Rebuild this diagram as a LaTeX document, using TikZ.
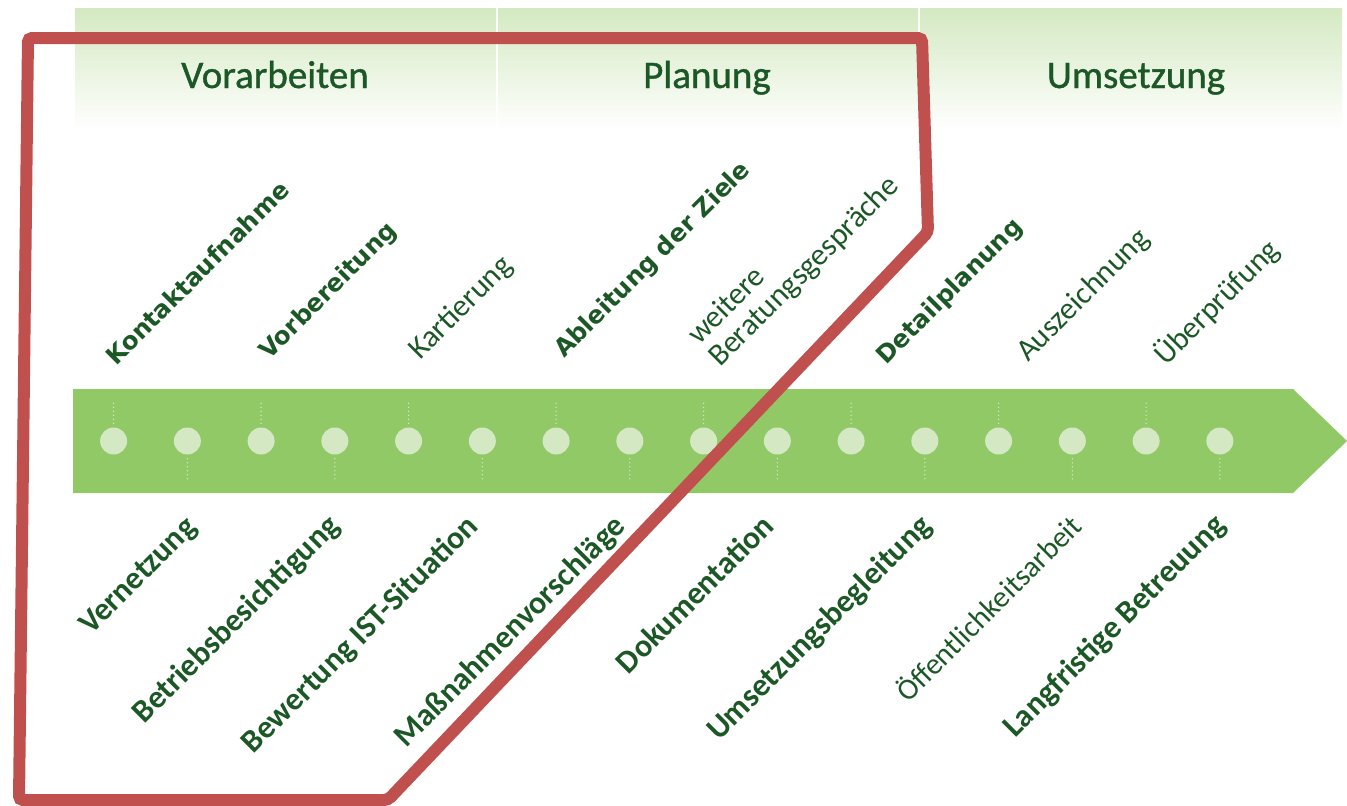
\documentclass[tikz,border=0pt]{standalone}
\usepackage{fontspec}
\setmainfont{Carlito}
\newfontfamily\vfont{DejaVu Sans}
\newfontfamily\hfont{Carlito}[FakeBold=1]
\definecolor{txtgreen}{RGB}{28,88,38}
\definecolor{arrowgreen}{RGB}{144,201,102}
\definecolor{dotgreen}{RGB}{212,232,196}
\definecolor{hdrgreen}{RGB}{212,233,194}
\definecolor{redline}{RGB}{192,80,77}
\tikzset{
  hdrtext/.style={font=\hfont\fontsize{39}{42}\selectfont, text=txtgreen, anchor=base, inner sep=0pt},
  hdrbox/.style={top color=hdrgreen, bottom color=white, draw=none},
  upbold/.style={font=\vfont\bfseries\fontsize{24.5}{28}\selectfont, text=txtgreen, rotate=45, anchor=base west, inner sep=0pt},
  uplight/.style={font=\fontsize{31}{34}\selectfont, text=txtgreen, rotate=45, anchor=base west, inner sep=0pt},
  lowbold/.style={font=\bfseries\fontsize{32}{36}\selectfont, text=txtgreen, rotate=45, anchor=base east, inner sep=0pt},
  lowlight/.style={font=\fontsize{30}{34}\selectfont, text=txtgreen, rotate=45, anchor=base east, inner sep=0pt},
  dotnode/.style={circle, fill=dotgreen, minimum size=27pt, inner sep=0pt},
  dotline/.style={draw=dotgreen, line width=1.6pt, line cap=round, dash pattern=on 0pt off 4pt, shorten <=4pt},
  frame/.style={draw=redline, line width=12pt, rounded corners=4pt, line join=miter}
}
\begin{document}
\begin{tikzpicture}[x=1pt,y=-1pt]
\useasboundingbox (0,0) rectangle (1347,806);
% header
\shade[hdrbox] (75,8) rectangle (496,130);
\shade[hdrbox] (498,8) rectangle (918,130);
\shade[hdrbox] (920,8) rectangle (1342,130);
\node[hdrtext] (h1) at (275,88) {Vorarbeiten};
\node[hdrtext] (h2) at (707,88) {Planung};
\node[hdrtext] (h3) at (1136,88) {Umsetzung};
% arrow
\fill[arrowgreen] (73,389) -- (1293,389) -- (1347,441) -- (1293,493) -- (73,493) -- cycle;
% dots
\foreach \i in {0,...,15}{
  \pgfmathsetmacro{\xx}{113.6+73.75*\i}
  \node[dotnode] (d\i) at (\xx,441) {};
  \coordinate (t\i) at (\xx,403);
  \coordinate (b\i) at (\xx,481);
}
\foreach \i in {0,2,...,14}{ \draw[dotline] (d\i) -- (t\i); }
\foreach \i in {1,3,...,15}{ \draw[dotline] (d\i) -- (b\i); }
% upper labels
\node[upbold] (u0) at (116,367) {Kontaktaufnahme};
\node[upbold] (u2) at (269,361) {Vorbereitung};
\node[uplight] (u4) at (420,361) {Kartierung};
\node[upbold] (u6) at (564,359) {Ableitung der Ziele};
\node[uplight] (u8a) at (699,346) {weitere};
\node[uplight] (u8b) at (720,368) {Beratungsgespräche};
\node[upbold] (u10) at (886,366) {Detailplanung};
\node[uplight] (u12) at (1028,363) {Auszeichnung};
\node[uplight] (u14) at (1166,367) {Überprüfung};
% lower labels
\node[lowbold] (l1) at (198,529) {Vernetzung};
\node[lowbold] (l3) at (341,528) {Betriebsbesichtigung};
\node[lowbold] (l5) at (480,528) {Bewertung IST-Situation};
\node[lowbold] (l7) at (627,528) {Maßnahmenvorschläge};
\node[lowbold] (l9) at (776,528) {Dokumentation};
\node[lowbold] (l11) at (933,528) {Umsetzungsbegleitung};
\node[lowlight] (l13) at (1084,528) {Öffentlichkeitsarbeit};
\node[lowbold] (l15) at (1227,527) {Langfristige Betreuung};
% red frame
\draw[frame] (28,38) -- (922,38) -- (928,232) -- (388,800) -- (19,800) -- cycle;
\end{tikzpicture}
\end{document}
